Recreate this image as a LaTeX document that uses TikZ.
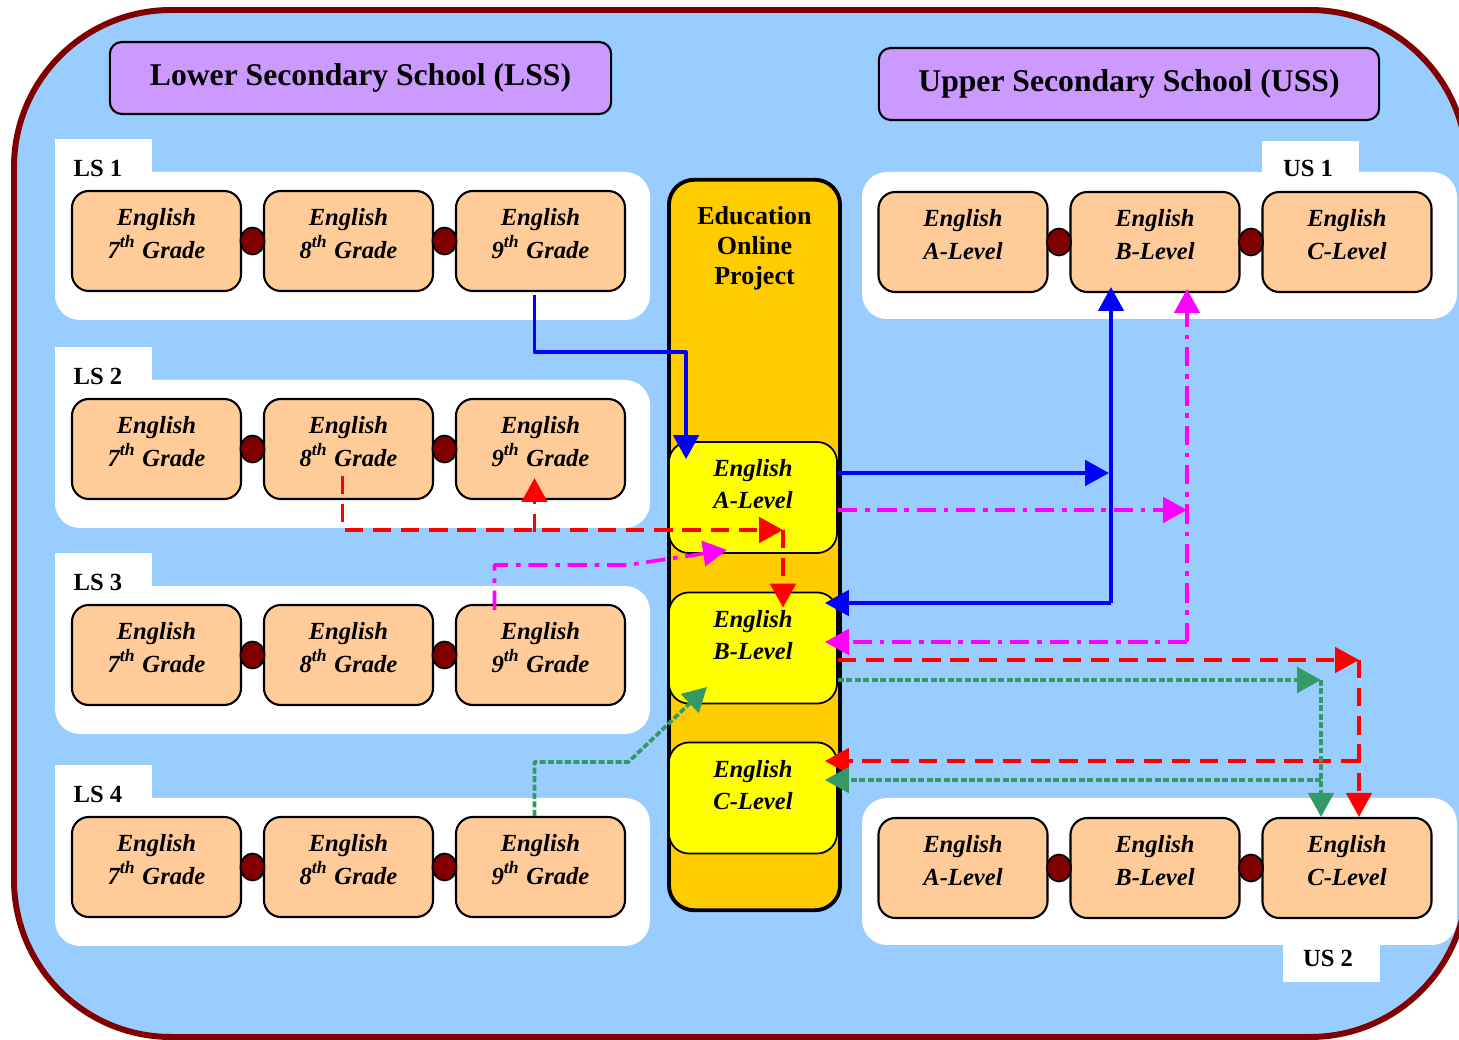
\documentclass[tikz,border=0pt]{standalone}
\usepackage{fontspec}
\setmainfont{Liberation Serif}
\usetikzlibrary{positioning,calc,arrows.meta,shapes.geometric}
\definecolor{skyfill}{HTML}{99CCFF}
\definecolor{frameline}{HTML}{800000}
\definecolor{lilac}{HTML}{CC99FF}
\definecolor{peach}{HTML}{FFCC99}
\definecolor{gold}{HTML}{FFCC00}
\definecolor{lemon}{HTML}{FFFF00}
\definecolor{pureblue}{HTML}{0000FF}
\definecolor{purered}{HTML}{FF0000}
\definecolor{puremagenta}{HTML}{FF00FF}
\definecolor{seagreen}{HTML}{339966}
\tikzset{
	frame/.style = {draw=frameline, fill=skyfill, line width=1.7pt, rounded corners=1.57cm},
	heading/.style = {draw, line width=0.6pt, fill=lilac, rounded corners=0.12cm,
	 minimum height=0.72cm, font=\fontsize{9}{11}\selectfont\bfseries},
	grade/.style = {draw, line width=0.6pt, fill=peach, rounded corners=0.17cm,
	 minimum width=1.69cm, minimum height=1cm, inner sep=0pt, align=center, text depth=4.5pt,
	 font=\fontsize{7}{9.4}\selectfont\bfseries\itshape},
	level/.style = {grade, line width=0.5pt, fill=lemon, rounded corners=0.2cm,
	 minimum width=1.68cm, minimum height=1.11cm, text depth=7.6pt,
	 font=\fontsize{7}{9.1}\selectfont\bfseries\itshape},
	column/.style = {draw, line width=1.1pt, fill=gold, rounded corners=0.25cm,
	 minimum width=1.71cm, minimum height=7.3cm, inner sep=0pt},
	eoptitle/.style = {align=center, font=\fontsize{7.4}{8.5}\selectfont\bfseries},
	link/.style = {draw, line width=0.5pt, fill=frameline, ellipse,
	 minimum width=0.24cm, minimum height=0.27cm, inner sep=0pt},
	tablabel/.style = {font=\fontsize{7}{8}\selectfont\bfseries, inner sep=0pt},
	arr/.style = {line width=1.05pt, -{Triangle[length=6.8pt,width=7.2pt]}},
	bluearr/.style = {arr, draw=pureblue},
	magarr/.style = {arr, draw=puremagenta, dash pattern=on 5.5pt off 2.2pt on 1.3pt off 2.2pt},
	redarr/.style = {arr, draw=purered, dash pattern=on 5.2pt off 2.8pt},
	grnarr/.style = {arr, draw=seagreen, dash pattern=on 1.7pt off 0.7pt},
	into/.style = {shorten >=-3.7pt}}
\tikzset{
	lsrow/.pic = {
	 \fill [white] (0,-33) rectangle (97,30);
	 \fill [white, rounded corners=0.25cm] (0,0) rectangle (595,148);
	 \node [tablabel] (-lbl) at (43,-4) {#1};
	 \node [grade] (-a) at (101.5,69) {English\\7\textsuperscript{th} Grade};
	 \node [grade] (-b) at (293.5,69) {English\\8\textsuperscript{th} Grade};
	 \node [grade] (-c) at (485.5,69) {English\\9\textsuperscript{th} Grade};
	 \node [link] (-ab) at (197.5,69) {};
	 \node [link] (-bc) at (389.5,69) {};
	 }
	}
\tikzset{
	usrow/.pic = {
	 \fill [white, rounded corners=0.25cm] (0,0) rectangle (595,147);
	 \node [grade] (-a) at (101,70) {English\\A-Level};
	 \node [grade] (-b) at (293,70) {English\\B-Level};
	 \node [grade] (-c) at (485,70) {English\\C-Level};
	 \node [link] (-ab) at (197,70) {};
	 \node [link] (-bc) at (389,70) {};
	 }
	}
\begin{document}
\begin{tikzpicture}[x=0.01cm, y=-0.01cm, line join=round]
\useasboundingbox (0,0) rectangle (1459,1040);
\clip (0,0) rectangle (1459,1040);

% FRAME
\draw [frame] (14,10) rectangle (1467,1037);

% HEADINGS
\node [heading, minimum width=5.01cm] (lss) at (360.5,78) {Lower Secondary School (LSS)};
\node [heading, minimum width=5.00cm] (uss) at (1129,84) {Upper Secondary School (USS)};

% SCHOOL ROWS
\pic (ls1) at (55,172) {lsrow=LS 1};
\pic (ls2) at (55,380) {lsrow=LS 2};
\pic (ls3) at (55,586) {lsrow=LS 3};
\pic (ls4) at (55,798) {lsrow=LS 4};
\fill [white] (1262,141) rectangle (1359,180);
\fill [white] (1283,940) rectangle (1380,982);
\pic (us1) at (862,172) {usrow};
\pic (us2) at (862,798) {usrow};
\node [tablabel] (us1lbl) at (1308,168) {US 1};
\node [tablabel] (us2lbl) at (1328,958) {US 2};

% PROJECT
\node [column] (eop) at (754.5,545) {};
\node [eoptitle, below=0.16cm of eop.north] (eoptext) {Education\\Online\\Project};
\node [level] (ya) at (753,497.5) {English\\A-Level};
\node [level] (yb) at (753,648) {English\\B-Level};
\node [level] (yc) at (753,798) {English\\C-Level};

% CONNECTIONS
\coordinate (bhi) at (1109,473);
\coordinate (bjoin) at (1111,603);
\coordinate (mhi) at (1187,510);
\coordinate (mjoin) at (1187,642);
\coordinate (rturn) at (783,530);
\coordinate (rhi) at (1359,660);
\coordinate (rlow) at (1359,761);
\coordinate (ghi) at (1321,680);
\coordinate (glow) at (1321,780);
\coordinate (mtip) at (727,550);
\coordinate (gtip) at (707,687);

\draw [bluearr] ($(ls1-c.south)+(-6,3)$) -- ++(0,57) -| ($(ya.north west)+(18,18)$);
\draw [bluearr] (ya.east |- bhi) -- (bhi);
\draw [bluearr] (bjoin) -- ($(bjoin |- us1-b.south)+(0,-6)$);
\draw [bluearr, into] (bjoin) -- (bjoin -| yb.east);

\draw [magarr] (ya.east |- mhi) -- (mhi);
\draw [magarr] (mjoin) -- ($(mjoin |- us1-b.south)+(0,-4)$);
\draw [magarr, into] (mjoin) -- (mjoin -| yb.east);
\draw [magarr] ($(ls3-c.north)+(-46,6)$) -- ++(0,-45) -- ++(134,0) -- (mtip);

\draw [redarr] ($(ls2-b.south)+(-6,-24)$) |- (rturn);
\draw [redarr] ($(ls2-c.south)+(-6,32)$) -- ($(ls2-c.south)+(-6,-22)$);
\draw [redarr] (rturn) -- ($(yb.north)+(30,16)$);
\draw [redarr] (yb.east |- rhi) -- (rhi);
\draw [redarr] (rhi) -- (rhi |- us2-c.north);
\draw [redarr, into] (rlow) -- (rlow -| yc.east);

\draw [grnarr] (yb.east |- ghi) -- (ghi);
\draw [grnarr] (ghi) -- (ghi |- us2-c.north);
\draw [grnarr, into] (glow) -- (glow -| yc.east);
\draw [grnarr] ($(ls4-c.north)+(-6,0)$) -- ++(0,-54) -- ++(94,0) -- (gtip);

\end{tikzpicture}
\end{document}
